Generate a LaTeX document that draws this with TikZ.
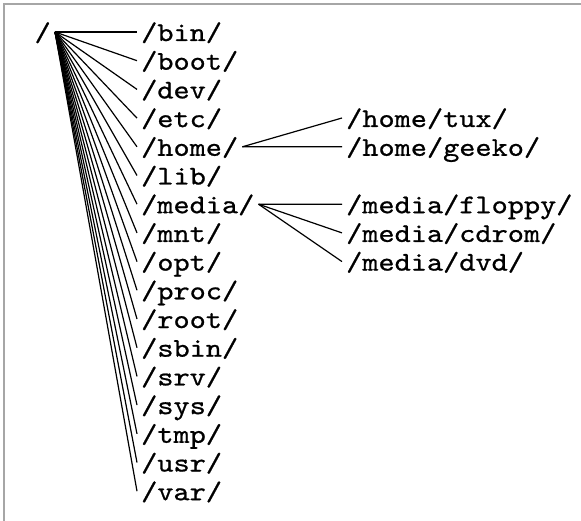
\documentclass[tikz,border=0pt]{standalone}
\usepackage{fontspec}
\newfontfamily\dirface{lmmono10-regular.otf}[FakeStretch=1.14,FakeBold=0.8]
\begin{document}
\begin{tikzpicture}[x=1pt,y=-1pt,
  dirfont/.style={font=\dirface\fontsize{27}{28}\selectfont},
  dirnode/.style={dirfont, inner xsep=4pt, inner ysep=0pt,
    text height=20pt, text depth=2pt, anchor=west},
  link/.style={line width=1.2pt, black},
  frame/.style={draw=gray!70, line width=1.2pt}]
\useasboundingbox (0,0) rectangle (581,521);
\draw[frame] (4,521) -- (4,4) -- (581,4);
\node[dirnode, anchor=east] (root) at (55,32) {/};
\foreach \n [count=\i from 0] in {bin,boot,dev,etc,home,lib,media,mnt,opt,proc,root,sbin,srv,sys,tmp,usr,var}{
  \node[dirnode] (d\n) at (137,{32+28.7*\i}) {/\n/};
  \draw[link] (root.east) -- (d\n.west);
}
\node[dirnode] (tux) at (342,118) {/home/tux/};
\node[dirnode] (geeko) at (342,146.8) {/home/geeko/};
\node[dirnode] (floppy) at (342,204.2) {/media/floppy/};
\node[dirnode] (cdrom) at (342,232.9) {/media/cdrom/};
\node[dirnode] (dvd) at (342,261.6) {/media/dvd/};
\draw[link] (dhome.east) -- (tux.west);
\draw[link] (dhome.east) -- (geeko.west);
\draw[link] (dmedia.east) -- (floppy.west);
\draw[link] (dmedia.east) -- (cdrom.west);
\draw[link] (dmedia.east) -- (dvd.west);
\end{tikzpicture}
\end{document}
